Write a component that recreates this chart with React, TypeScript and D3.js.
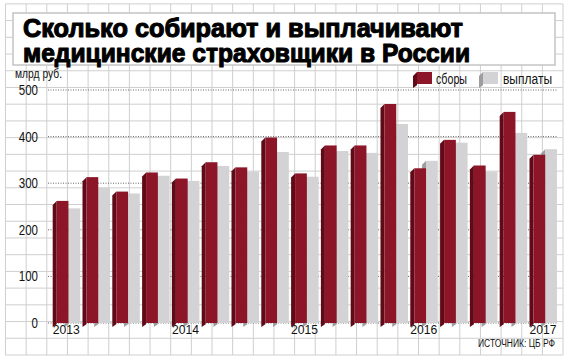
import React from "react";
import * as d3 from "d3";

// quarterly data, bln rub
const quarters = [
  "2013Q1", "2013Q2", "2013Q3", "2013Q4",
  "2014Q1", "2014Q2", "2014Q3", "2014Q4",
  "2015Q1", "2015Q2", "2015Q3", "2015Q4",
  "2016Q1", "2016Q2", "2016Q3", "2016Q4",
  "2017Q1",
];
const premiums = [262, 313, 282, 323, 310, 345, 334, 398, 321, 381, 381, 470, 332, 393, 338, 453, 361];
const payouts = [246, 290, 278, 316, 305, 337, 325, 367, 314, 369, 365, 427, 348, 387, 325, 408, 373];
const seriesNames = ["сборы", "выплаты"];
const yTicks = [0, 100, 200, 300, 400, 500];
const yearLabels = [
  { q: "2013Q1", label: "2013" },
  { q: "2014Q1", label: "2014" },
  { q: "2015Q1", label: "2015" },
  { q: "2016Q1", label: "2016" },
  { q: "2017Q1", label: "2017" },
];

const W = 570;
const H = 362;
const FONT = "'Liberation Sans', Arial, sans-serif";
const TITLE_FONT = "'Liberation Sans', Arial, sans-serif";
const RED = "#8c1628";
const RED_SIDE = "#5f0a16";
const GRAY = "#d3d3d5";
const GRAY_SIDE = "#9d9d9f";
const DEPTH = 4;

function Bar3D(
  { x, w, top, base, front, side }: { x: number; w: number; top: number; base: number; front: string; side: string },
) {
  const sidePts = [
    [x, top],
    [x - DEPTH, top + DEPTH],
    [x - DEPTH, base + DEPTH],
    [x, base + DEPTH * 0.3],
  ].map((p) => p.join(",")).join(" ");
  return (
    <g>
      <polygon points={sidePts} fill={side} />
      <rect x={x} y={top} width={w} height={base - top} fill={front} />
    </g>
  );
}

export default function App() {
  const x = d3.scaleBand<string>()
    .domain(quarters)
    .range([56.7, 557])
    .paddingInner(0.211)
    .paddingOuter(0);
  const xs = d3.scaleBand<string>().domain(seriesNames).range([0, x.bandwidth()]);
  const y = d3.scaleLinear().domain([0, 500]).range([323, 90]);

  // graph-paper background
  const vLines = d3.range(0, 28).map((k) => 5.5 + k * 20.65);
  const hLines = d3.range(0, 22).map((k) => 355 - k * 16.72);

  return (
    <svg width={W} height={H} style={{ position: "absolute", left: 0, top: 0 }}>
      <rect width={W} height={H} fill="#fff" />
      {vLines.map((v, i) => (
        <line key={"v" + i} x1={v} x2={v} y1={hLines[hLines.length - 1]} y2={355} stroke="#cfcfcf" strokeWidth={1} />
      ))}
      {hLines.map((h, i) => (
        <line key={"h" + i} x1={vLines[0]} x2={vLines[vLines.length - 1]} y1={h} y2={h} stroke="#cfcfcf" strokeWidth={1} />
      ))}

      {/* title panel */}
      <rect x={13} y={13} width={542} height={52} fill="#fff" stroke="#c4c4c4" strokeWidth={1.5} />
      <g fontFamily={TITLE_FONT} fontWeight="bold" fontSize={26} stroke="#000" strokeWidth={1.1} strokeLinejoin="round">
        <text x={23} y={37} textLength={440} lengthAdjust="spacingAndGlyphs">
          Сколько собирают и выплачивают
        </text>
        <text x={23} y={62} textLength={447} lengthAdjust="spacingAndGlyphs">
          медицинские страховщики в России
        </text>
      </g>

      {/* unit */}
      <text x={15} y={78} fontFamily={FONT} fontSize={12} textLength={47} lengthAdjust="spacingAndGlyphs" fill="#111">
        млрд руб.
      </text>

      {/* legend */}
      <Bar3D x={417} w={15} top={72} base={84} front={RED} side={RED_SIDE} />
      <text x={436} y={84} fontFamily={FONT} fontSize={14} textLength={31} lengthAdjust="spacingAndGlyphs" fill="#111">
        {seriesNames[0]}
      </text>
      <Bar3D x={483} w={15} top={72} base={84} front={GRAY} side={GRAY_SIDE} />
      <text x={503} y={84} fontFamily={FONT} fontSize={14} textLength={49} lengthAdjust="spacingAndGlyphs" fill="#111">
        {seriesNames[1]}
      </text>

      {/* y gridlines and labels */}
      {yTicks.map((t) => (
        <g key={t}>
          <line x1={48} x2={558} y1={y(t)} y2={y(t)} stroke="#666" strokeWidth={1} strokeDasharray="1,1.5" />
          <text
            x={38}
            y={y(t) + 5}
            textAnchor="end"
            fontFamily={FONT}
            fontSize={14}
            textLength={String(t).length * 6.4}
            lengthAdjust="spacingAndGlyphs"
            fill="#111"
          >
            {t}
          </text>
        </g>
      ))}

      {/* bars */}
      {quarters.map((q, i) => {
        const x0 = x(q) ?? 0;
        return (
          <g key={q}>
            <Bar3D
              x={x0 + (xs(seriesNames[1]) ?? 0)}
              w={xs.bandwidth()}
              top={y(payouts[i])}
              base={y(0)}
              front={GRAY}
              side={GRAY_SIDE}
            />
            <Bar3D
              x={x0 + (xs(seriesNames[0]) ?? 0)}
              w={xs.bandwidth()}
              top={y(premiums[i])}
              base={y(0)}
              front={RED}
              side={RED_SIDE}
            />
          </g>
        );
      })}

      {/* year labels */}
      {yearLabels.map((d) => (
        <text
          key={d.label}
          x={(x(d.q) ?? 0) - DEPTH}
          y={334}
          fontFamily={FONT}
          fontSize={13.5}
          textLength={27}
          lengthAdjust="spacingAndGlyphs"
          fill="#111"
        >
          {d.label}
        </text>
      ))}

      <text x={478} y={347} fontFamily={FONT} fontSize={10} textLength={77} lengthAdjust="spacingAndGlyphs" fill="#111">
        ИСТОЧНИК: ЦБ РФ
      </text>
    </svg>
  );
}
